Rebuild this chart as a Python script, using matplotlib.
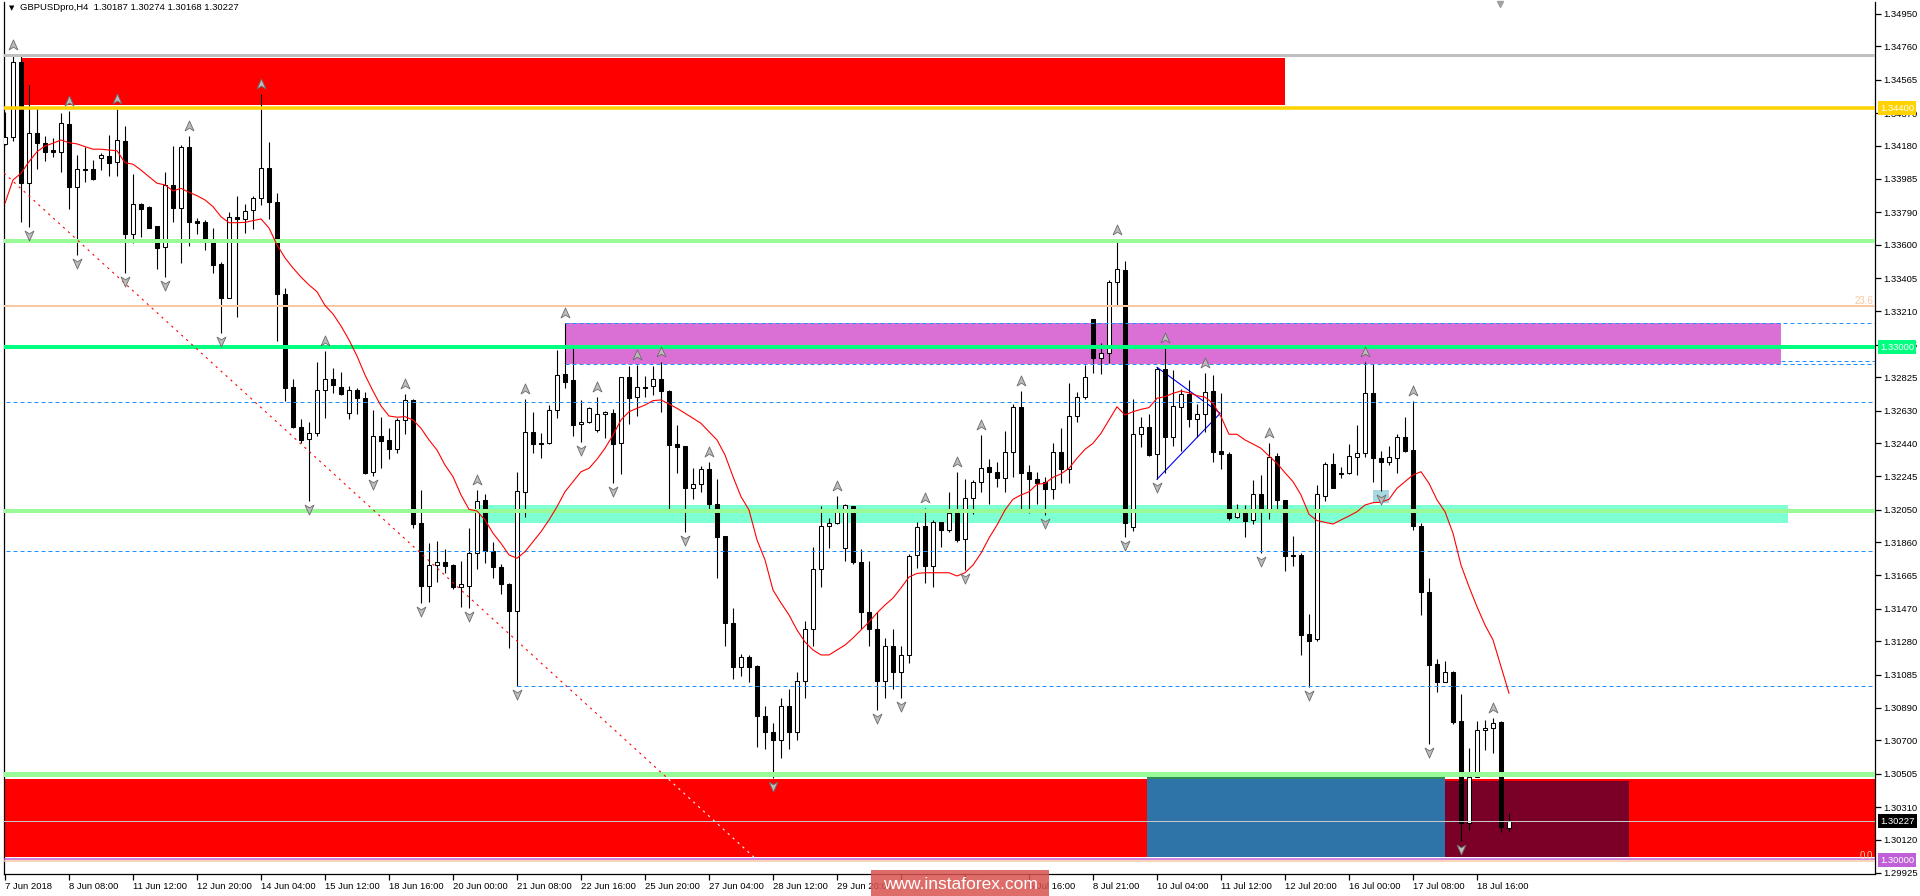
import matplotlib
matplotlib.use('Agg')
import matplotlib.pyplot as plt
from matplotlib.patches import Rectangle, FancyBboxPatch
from matplotlib.path import Path
from matplotlib.transforms import offset_copy, blended_transform_factory

# GBPUSDpro H4, 7 Jun - 19 Jul 2018
opens = [1.34189, 1.34232, 1.34671, 1.33959, 1.34252, 1.34193, 1.34154, 1.34144, 1.34304, 1.33936,
         1.34041, 1.34041, 1.34105, 1.34119, 1.34086, 1.34207, 1.33661, 1.33838, 1.33821, 1.33710,
         1.33589, 1.33949, 1.33817, 1.34170, 1.33739, 1.33731, 1.33622, 1.33485, 1.33290, 1.33764,
         1.33748, 1.33803, 1.33871, 1.34050, 1.33850, 1.33310, 1.32766, 1.32532, 1.32462, 1.32497,
         1.32750, 1.32813, 1.32770, 1.32614, 1.32750, 1.32702, 1.32273, 1.32481, 1.32456, 1.32403,
         1.32573, 1.32692, 1.31971, 1.31606, 1.31727, 1.31742, 1.31727, 1.31600, 1.31606, 1.31795,
         1.32107, 1.31811, 1.31717, 1.31614, 1.31460, 1.32156, 1.32503, 1.32440, 1.32439, 1.32632,
         1.32844, 1.32809, 1.32550, 1.32561, 1.32515, 1.32608, 1.32614, 1.32442, 1.32825, 1.32708,
         1.32768, 1.32774, 1.32813, 1.32743, 1.32435, 1.32423, 1.32175, 1.32199, 1.32286, 1.32082,
         1.31896, 1.31386, 1.31128, 1.31187, 1.31136, 1.30845, 1.30750, 1.30700, 1.30900, 1.30750,
         1.31050, 1.31350, 1.31700, 1.31955, 1.31971, 1.31824, 1.32072, 1.31746, 1.31450, 1.31350,
         1.31050, 1.31250, 1.31100, 1.31200, 1.31785, 1.31955, 1.31723, 1.31976, 1.31932, 1.32029,
         1.31877, 1.32117, 1.32210, 1.32298, 1.32269, 1.32237, 1.32385, 1.32649, 1.32268, 1.32227,
         1.32210, 1.32169, 1.32389, 1.32286, 1.32600, 1.32707, 1.33163, 1.32935, 1.32964, 1.33384,
         1.33452, 1.31951, 1.32491, 1.32532, 1.32374, 1.32871, 1.32473, 1.32649, 1.32727, 1.32578,
         1.32608, 1.32744, 1.32393, 1.32376, 1.32005, 1.32052, 1.31990, 1.32140, 1.32039, 1.32364,
         1.32107, 1.31785, 1.31785, 1.31323, 1.31292, 1.32132, 1.32316, 1.32261, 1.32263, 1.32360,
         1.32380, 1.32731, 1.32351, 1.32331, 1.32351, 1.32474, 1.32400, 1.31955, 1.31567, 1.31146,
         1.31044, 1.31099, 1.30814, 1.30216, 1.30485, 1.30758, 1.30771, 1.30806, 1.30187]
highs = [1.34379, 1.34710, 1.34704, 1.34534, 1.34398, 1.34236, 1.34222, 1.34369, 1.34383, 1.34125,
         1.34174, 1.34096, 1.34138, 1.34242, 1.34394, 1.34295, 1.34014, 1.33846, 1.33826, 1.33710,
         1.34027, 1.34177, 1.34183, 1.34236, 1.33754, 1.33745, 1.33696, 1.33501, 1.33789, 1.33887,
         1.33838, 1.33885, 1.34480, 1.34200, 1.33900, 1.33345, 1.32815, 1.32579, 1.32561, 1.32912,
         1.32979, 1.32877, 1.32854, 1.32776, 1.32760, 1.32737, 1.32634, 1.32595, 1.32526, 1.32585,
         1.32727, 1.32696, 1.32166, 1.31854, 1.31867, 1.31818, 1.31731, 1.31750, 1.31941, 1.32166,
         1.32142, 1.31863, 1.31733, 1.31623, 1.32273, 1.32696, 1.32620, 1.32497, 1.32663, 1.32985,
         1.33140, 1.33004, 1.32692, 1.32649, 1.32708, 1.32626, 1.32637, 1.32829, 1.32893, 1.32897,
         1.32832, 1.32893, 1.32916, 1.32751, 1.32546, 1.32423, 1.32292, 1.32306, 1.32327, 1.32228,
         1.31896, 1.31473, 1.31206, 1.31200, 1.31142, 1.30900, 1.30800, 1.30950, 1.31000, 1.31100,
         1.31400, 1.31834, 1.32072, 1.32000, 1.32130, 1.32084, 1.32072, 1.31818, 1.31752, 1.31450,
         1.31300, 1.31350, 1.31250, 1.31789, 1.31980, 1.32058, 1.31990, 1.31980, 1.32152, 1.32269,
         1.32228, 1.32224, 1.32487, 1.32349, 1.32327, 1.32510, 1.32668, 1.32744, 1.32311, 1.32272,
         1.32239, 1.32442, 1.32526, 1.32789, 1.32736, 1.32896, 1.33165, 1.33023, 1.33394, 1.33628,
         1.33505, 1.32697, 1.32590, 1.32610, 1.32887, 1.32994, 1.32867, 1.32754, 1.32808, 1.32668,
         1.32847, 1.32838, 1.32731, 1.32389, 1.32083, 1.32077, 1.32224, 1.32253, 1.32442, 1.32384,
         1.32107, 1.31896, 1.31799, 1.31440, 1.32195, 1.32331, 1.32384, 1.32298, 1.32433, 1.32546,
         1.32914, 1.32902, 1.32394, 1.32423, 1.32493, 1.32594, 1.32688, 1.31971, 1.31649, 1.31177,
         1.31165, 1.31107, 1.30972, 1.30658, 1.30816, 1.30820, 1.30830, 1.30816, 1.30274]
lows = [1.34183, 1.34209, 1.33735, 1.33706, 1.34041, 1.34092, 1.34111, 1.34027, 1.33809, 1.33540,
        1.33969, 1.33979, 1.34037, 1.34004, 1.34004, 1.33436, 1.33612, 1.33647, 1.33696, 1.33456,
        1.33409, 1.33735, 1.33491, 1.33594, 1.33661, 1.33569, 1.33433, 1.33085, 1.33286, 1.33175,
        1.33667, 1.33692, 1.33830, 1.33750, 1.33039, 1.32688, 1.32526, 1.32439, 1.32101, 1.32483,
        1.32589, 1.32731, 1.32721, 1.32583, 1.32612, 1.32259, 1.32247, 1.32296, 1.32349, 1.32384,
        1.32493, 1.31941, 1.31503, 1.31512, 1.31629, 1.31682, 1.31585, 1.31483, 1.31474, 1.31702,
        1.31737, 1.31653, 1.31555, 1.31243, 1.31019, 1.32010, 1.32384, 1.32355, 1.32435, 1.32589,
        1.32760, 1.32483, 1.32448, 1.32556, 1.32507, 1.32472, 1.32205, 1.32257, 1.32550, 1.32600,
        1.32712, 1.32721, 1.32620, 1.32054, 1.32263, 1.31922, 1.32111, 1.32156, 1.32052, 1.31649,
        1.31255, 1.31058, 1.31079, 1.31044, 1.30660, 1.30650, 1.30480, 1.30600, 1.30650, 1.30700,
        1.30950, 1.31250, 1.31600, 1.31824, 1.31967, 1.31752, 1.31731, 1.31350, 1.31250, 1.30880,
        1.30950, 1.31000, 1.30950, 1.31150, 1.31707, 1.31620, 1.31596, 1.31834, 1.31922, 1.31863,
        1.31698, 1.32025, 1.32156, 1.32084, 1.32181, 1.32155, 1.32243, 1.32038, 1.32032, 1.32083,
        1.32019, 1.32110, 1.32204, 1.32208, 1.32565, 1.32697, 1.32851, 1.32842, 1.32906, 1.33247,
        1.31888, 1.31927, 1.32419, 1.32364, 1.32227, 1.32266, 1.32422, 1.32393, 1.32536, 1.32477,
        1.32506, 1.32331, 1.32286, 1.31989, 1.32003, 1.31888, 1.31964, 1.31795, 1.31994, 1.32049,
        1.31694, 1.31723, 1.31200, 1.31015, 1.31284, 1.32103, 1.32179, 1.32234, 1.32259, 1.32253,
        1.32357, 1.32214, 1.32162, 1.32312, 1.32267, 1.32390, 1.31932, 1.31434, 1.30680, 1.30986,
        1.31044, 1.30795, 1.30114, 1.30173, 1.30485, 1.30645, 1.30629, 1.30167, 1.30168]
closes = [1.34232, 1.34671, 1.33963, 1.34252, 1.34193, 1.34144, 1.34144, 1.34310, 1.33936, 1.34041,
          1.34039, 1.33982, 1.34123, 1.34080, 1.34213, 1.33661, 1.33838, 1.33809, 1.33700, 1.33583,
          1.33949, 1.33817, 1.34170, 1.33735, 1.33729, 1.33618, 1.33483, 1.33290, 1.33764, 1.33748,
          1.33799, 1.33871, 1.34050, 1.33850, 1.33310, 1.32764, 1.32536, 1.32458, 1.32497, 1.32750,
          1.32813, 1.32778, 1.32725, 1.32750, 1.32702, 1.32267, 1.32481, 1.32454, 1.32403, 1.32573,
          1.32692, 1.31967, 1.31606, 1.31727, 1.31746, 1.31723, 1.31596, 1.31616, 1.31795, 1.32101,
          1.31811, 1.31713, 1.31616, 1.31460, 1.32162, 1.32507, 1.32435, 1.32437, 1.32632, 1.32836,
          1.32799, 1.32548, 1.32561, 1.32643, 1.32608, 1.32620, 1.32437, 1.32825, 1.32706, 1.32766,
          1.32764, 1.32813, 1.32743, 1.32431, 1.32419, 1.32175, 1.32199, 1.32286, 1.32082, 1.31893,
          1.31386, 1.31128, 1.31187, 1.31132, 1.30845, 1.30750, 1.30700, 1.30900, 1.30750, 1.31050,
          1.31350, 1.31700, 1.31955, 1.31971, 1.32035, 1.32078, 1.31746, 1.31450, 1.31350, 1.31050,
          1.31250, 1.31100, 1.31200, 1.31779, 1.31947, 1.31723, 1.31976, 1.31932, 1.32029, 1.31873,
          1.32117, 1.32210, 1.32292, 1.32273, 1.32234, 1.32385, 1.32649, 1.32266, 1.32227, 1.32208,
          1.32169, 1.32389, 1.32286, 1.32600, 1.32707, 1.32828, 1.32939, 1.32964, 1.33380, 1.33456,
          1.31974, 1.32491, 1.32532, 1.32370, 1.32871, 1.32473, 1.32656, 1.32727, 1.32578, 1.32608,
          1.32736, 1.32389, 1.32374, 1.31999, 1.32052, 1.31986, 1.32140, 1.32039, 1.32357, 1.32107,
          1.31776, 1.31779, 1.31317, 1.31284, 1.32140, 1.32316, 1.32179, 1.32265, 1.32364, 1.32380,
          1.32731, 1.32355, 1.32331, 1.32357, 1.32478, 1.32396, 1.31957, 1.31571, 1.31142, 1.31044,
          1.31099, 1.30810, 1.30216, 1.30485, 1.30762, 1.30771, 1.30804, 1.30196, 1.30227]
# red moving average as drawn on the chart
ma = [1.33843, 1.33979, 1.34018, 1.34086, 1.34144, 1.34178, 1.34194, 1.34213, 1.34197, 1.34190,
      1.34174, 1.34159, 1.34159, 1.34154, 1.34150, 1.34080, 1.34071, 1.34037, 1.33998, 1.33960,
      1.33950, 1.33915, 1.33930, 1.33907, 1.33887, 1.33862, 1.33823, 1.33764, 1.33729, 1.33729,
      1.33731, 1.33741, 1.33751, 1.33698, 1.33599, 1.33523, 1.33464, 1.33411, 1.33365, 1.33325,
      1.33245, 1.33195, 1.33125, 1.33043, 1.32949, 1.32838, 1.32744, 1.32657, 1.32598, 1.32591,
      1.32594, 1.32575, 1.32526, 1.32458, 1.32399, 1.32311, 1.32243, 1.32136, 1.32052, 1.32042,
      1.31990, 1.31912, 1.31853, 1.31785, 1.31766, 1.31804, 1.31863, 1.31921, 1.31990, 1.32067,
      1.32155, 1.32214, 1.32272, 1.32292, 1.32345, 1.32409, 1.32487, 1.32575, 1.32623, 1.32643,
      1.32662, 1.32688, 1.32692, 1.32668, 1.32643, 1.32614, 1.32585, 1.32555, 1.32506, 1.32458,
      1.32370, 1.32243, 1.32126, 1.32048, 1.31873, 1.31756, 1.31580, 1.31504, 1.31434, 1.31346,
      1.31276, 1.31229, 1.31200, 1.31200, 1.31229, 1.31258, 1.31299, 1.31346, 1.31393, 1.31446,
      1.31492, 1.31533, 1.31592, 1.31656, 1.31677, 1.31681, 1.31681, 1.31681, 1.31681, 1.31662,
      1.31681, 1.31726, 1.31795, 1.31884, 1.31960, 1.32048, 1.32111, 1.32136, 1.32155, 1.32198,
      1.32204, 1.32239, 1.32259, 1.32292, 1.32351, 1.32403, 1.32438, 1.32497, 1.32575, 1.32652,
      1.32604, 1.32623, 1.32637, 1.32647, 1.32702, 1.32711, 1.32731, 1.32744, 1.32734, 1.32717,
      1.32708, 1.32672, 1.32594, 1.32491, 1.32491, 1.32458, 1.32434, 1.32409, 1.32364, 1.32321,
      1.32266, 1.32214, 1.32136, 1.32023, 1.31986, 1.31976, 1.31966, 1.31990, 1.32013, 1.32038,
      1.32077, 1.32091, 1.32093, 1.32111, 1.32175, 1.32214, 1.32253, 1.32272, 1.32204, 1.32107,
      1.32038, 1.31912, 1.31726, 1.31599, 1.31482, 1.31375, 1.31288, 1.31131, 1.30976]

fractal_up = [1, 8, 14, 23, 32, 40, 50, 59, 65, 70, 74, 79, 82, 88, 104, 115, 119, 122,
              127, 139, 145, 150, 158, 170, 176, 186]
fractal_down = [3, 9, 15, 20, 27, 38, 46, 52, 58, 64, 72, 76, 85, 96, 109, 112, 120, 130,
                140, 144, 157, 163, 172, 178, 182]

# labels every 8 bars; the two under the watermark are not visible on the chart
date_labels = ['7 Jun 2018', '8 Jun 08:00', '11 Jun 12:00', '12 Jun 20:00', '14 Jun 04:00',
               '15 Jun 12:00', '18 Jun 16:00', '20 Jun 00:00', '21 Jun 08:00', '22 Jun 16:00',
               '25 Jun 20:00', '27 Jun 04:00', '28 Jun 12:00', '29 Jun 20:00', '',
               '', '5 Jul 16:00', '8 Jul 21:00', '10 Jul 04:00', '11 Jul 12:00',
               '12 Jul 20:00', '16 Jul 00:00', '17 Jul 08:00', '18 Jul 16:00']
price_ticks = [1.34950, 1.34760, 1.34565, 1.34370, 1.34180, 1.33985, 1.33790, 1.33600,
               1.33405, 1.33210, 1.33015, 1.32825, 1.32630, 1.32440, 1.32245, 1.32050,
               1.31860, 1.31665, 1.31470, 1.31280, 1.31085, 1.30890, 1.30700, 1.30505,
               1.30310, 1.30120, 1.29925]

# drawn objects: (price, first bar, colour, width px, style)
levels = [(1.34710, None, '#C0C0C0', 3, '-'),
          (1.34400, None, '#FFD200', 3.5, '-'),
          (1.33624, None, '#98FB98', 4, '-'),
          (1.33242, None, '#F8C8A2', 2, '-'),
          (1.33000, None, '#00FF7F', 4, '-'),
          (1.33140, 70, '#1E90FF', 1, '--'),
          (1.32902, 70, '#1E90FF', 1, '--'),
          (1.32920, 222, '#1E90FF', 1, '--'),
          (1.32678, None, '#1E90FF', 1, '--'),
          (1.32042, None, '#98FB98', 4, '-'),
          (1.31808, None, '#1E90FF', 1, '--'),
          (1.31019, 64, '#1E90FF', 1, '--'),
          (1.30503, None, '#98FB98', 5, '-'),
          (1.30227, None, '#C8C8C8', 1, '-'),
          (1.30008, None, '#C060D8', 1.5, '-'),
          (1.29995, None, '#F8C8A2', 1.5, '-')]
# zones: (first bar, last bar, low, high, colour)
zones = [(2, 160, 1.34418, 1.34691, '#FF0000'),
         (70, 222, 1.32902, 1.33140, '#DA70D6'),
         (59.4, 222.9, 1.31974, 1.32077, '#7FFFD4'),
         (-1, 240, 1.30018, 1.30472, '#FF0000'),
         (142.75, 180, 1.30018, 1.30486, '#2F74A9'),
         (180, 203, 1.30018, 1.30462, '#7A0028'),
         (171, 173, 1.32088, 1.32164, '#A8D8E0')]
trend_x = [-0.125, 93.6]
trend_y = [1.34019, 1.30018]
wedge_x = [144.0, 151.9, 144.0]
wedge_y = [1.32228, 1.32614, 1.32883]
tags = [(1.34400, '1.34400', '#FFD200', 'white'),
        (1.33000, '1.33000', '#00FF7F', 'white'),
        (1.30227, '1.30227', 'black', 'white'),
        (1.30000, '1.30000', '#C060D8', 'white')]

plt.rcParams['font.family'] = ['Liberation Sans', 'DejaVu Sans']
W, H = 1920, 896
fig = plt.figure(figsize=(W / 100, H / 100), dpi=100, facecolor='white')
ax = fig.add_axes([4 / W, (H - 874) / H, 1871 / W, 872 / H])
ax.set_xlim(-0.125, 233.75)
ax.set_ylim(1.299184, 1.350202)
n = len(closes)
xs = list(range(n))

for x0, x1, lo, hi, col in zones:
    ax.add_patch(Rectangle((x0, lo), x1 - x0, hi - lo, facecolor=col, edgecolor='none', zorder=1))
ax.add_patch(Rectangle((142.75, 1.30472), 37.25, 0.00014, facecolor='#2E8B57', edgecolor='none', zorder=1.1))

# candles
ax.vlines(xs, lows, highs, color='black', linewidth=0.8, zorder=3)
for i in xs:
    o, c = opens[i], closes[i]
    h = c - o
    if abs(h) < 0.00003:
        h = 0.00003 if h >= 0 else -0.00003
    face = 'white' if c >= o else 'black'
    ax.bar(i, h, bottom=o, width=0.5, color=face, edgecolor='black', linewidth=0.75, zorder=4)

for price, start, col, lw, ls in levels:
    x0 = -1 if start is None else start
    line, = ax.plot([x0, 240], [price, price], color=col, linewidth=lw * 0.72, zorder=5,
                    solid_capstyle='butt')
    if ls == '--':
        line.set_dashes((4, 3))

# trend line (white where it runs over the red zone)
cut = 82.96
ycut = trend_y[0] + (trend_y[1] - trend_y[0]) * (cut - trend_x[0]) / (trend_x[1] - trend_x[0])
ax.plot([trend_x[0], cut], [trend_y[0], ycut], color='red', linewidth=0.8, dashes=(2, 4), zorder=5)
ax.plot([cut, trend_x[1]], [ycut, trend_y[1]], color='white', linewidth=0.8, dashes=(2, 4), zorder=5)
ax.plot(wedge_x, wedge_y, color='#0000FF', linewidth=0.8, zorder=2)

ax.plot(xs, ma, color='red', linewidth=0.8, zorder=6)

# fractal arrows
up_arrow = Path([(0, 1), (0.8, -0.8), (0, -0.3), (-0.8, -0.8), (0, 1)],
                [Path.MOVETO, Path.LINETO, Path.LINETO, Path.LINETO, Path.CLOSEPOLY])
down_arrow = Path([(0, -1), (0.8, 0.8), (0, 0.3), (-0.8, 0.8), (0, -1)],
                  [Path.MOVETO, Path.LINETO, Path.LINETO, Path.LINETO, Path.CLOSEPOLY])
ax.plot(fractal_up, [highs[i] for i in fractal_up], linestyle='none', marker=up_arrow,
        markersize=8, markerfacecolor='#BCBCBC', markeredgecolor='#6A6A6A', markeredgewidth=0.6,
        transform=offset_copy(ax.transData, fig=fig, y=10, units='dots'), zorder=7)
ax.plot(fractal_down, [lows[i] for i in fractal_down], linestyle='none', marker=down_arrow,
        markersize=8, markerfacecolor='#BCBCBC', markeredgecolor='#6A6A6A', markeredgewidth=0.6,
        transform=offset_copy(ax.transData, fig=fig, y=-8, units='dots'), zorder=7)

ax.text(233.5, 1.33242, '23.6', color='#F8C8A2', fontsize=7, ha='right', va='bottom', zorder=6)
ax.text(233.5, 1.29995, '0.0', color='#F8C8A2', fontsize=7, ha='right', va='bottom', zorder=6)

# chart shift marker at the top
ax.plot([186.9], [1.35008], marker='v', markersize=4, color='#A0A0A0', clip_on=False, zorder=8)

# axes look
ax.spines['top'].set_visible(False)
for s in ['left', 'right', 'bottom']:
    ax.spines[s].set_linewidth(0.9)
ax.set_xticks(list(range(0, 8 * len(date_labels), 8)))
ax.set_xticklabels(date_labels, ha='left')
ax.yaxis.tick_right()
ax.set_yticks(price_ticks)
ax.set_yticklabels(['%.5f' % p for p in price_ticks])
ax.tick_params(axis='x', direction='out', length=4, width=0.9, pad=2, labelsize=6.8)
ax.tick_params(axis='y', direction='out', length=4, width=0.9, pad=2, labelsize=6.8)

tr = blended_transform_factory(fig.transFigure, ax.transData)
for price, txt, bg, fg in tags:
    ax.text(1880 / W, price, txt, transform=tr, color=fg, fontsize=6.8, ha='left', va='center',
            clip_on=False, zorder=10,
            bbox=dict(boxstyle='square,pad=0.25', facecolor=bg, edgecolor='none'))

fig.text(12 / W, 1 - 8 / H, '\u25bc', fontsize=5, ha='center', va='center', family='DejaVu Sans')
fig.text(20 / W, 1 - 8 / H, 'GBPUSDpro,H4  1.30187 1.30274 1.30168 1.30227', fontsize=6.8,
         ha='left', va='center')

# watermark
fig.patches.append(FancyBboxPatch((871 / W, 0), 178 / W, 26 / H, boxstyle='square,pad=0',
                                  transform=fig.transFigure, facecolor='#D9534F', alpha=0.85,
                                  edgecolor='none', zorder=20))
fig.text(960 / W, 12 / H, 'www.instaforex.com', color='white', fontsize=12.5, ha='center',
         va='center', zorder=21)

fig.savefig('out.png', dpi=100)
